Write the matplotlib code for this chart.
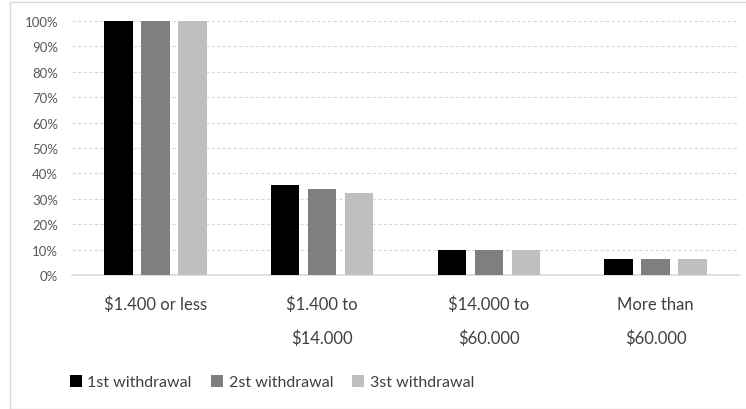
import matplotlib.pyplot as plt
import numpy as np
from matplotlib.patches import Rectangle

plt.rcParams['font.family'] = ['Lato', 'DejaVu Sans']

# Data
categories = ['$1.400 or less', '$1.400 to\n$14.000', '$14.000 to\n$60.000', 'More than\n$60.000']
first = [100, 35.4, 9.9, 6.3]
second = [100, 33.9, 9.8, 6.2]
third = [100, 32.3, 9.8, 6.2]
series = ['1st withdrawal', '2st withdrawal', '3st withdrawal']
colors = ['#000000', '#7f7f7f', '#bfbfbf']

fig = plt.figure(figsize=(7.46, 4.10), dpi=100)
ax = fig.add_axes([72 / 746, 1 - 276 / 410, 667 / 746, 254 / 410])

x = np.arange(len(categories))
w = 0.172
gap = 0.222
for i, (vals, c, name) in enumerate(zip([first, second, third], colors, series)):
    ax.bar(x + (i - 1) * gap, vals, width=w, color=c, label=name, zorder=3)

ax.set_xlim(-0.5, len(categories) - 0.5)
ax.set_ylim(0, 100)
ax.set_yticks(np.arange(0, 101, 10))
ax.set_yticklabels([f'{v}%' for v in range(0, 101, 10)], fontsize=9.5, color='#595959')
ax.set_xticks(x)
ax.set_xticklabels(categories, fontsize=12, color='#404040', linespacing=2.3)
ax.tick_params(axis='both', length=0)
ax.tick_params(axis='x', pad=15)
ax.tick_params(axis='y', pad=10)

ax.yaxis.grid(True, linestyle=(0, (3, 2)), color='#d9d9d9', linewidth=0.8, zorder=0)
for s in ['top', 'right', 'left']:
    ax.spines[s].set_visible(False)
ax.spines['bottom'].set_color('#d9d9d9')
ax.spines['bottom'].set_linewidth(1.2)

leg = fig.legend(loc='center', bbox_to_anchor=(272 / 746, 1 - 383 / 410), ncol=3, frameon=False,
                 fontsize=11.5, handlelength=0.75, handleheight=0.8, handletextpad=0.35,
                 columnspacing=1.2)
for t in leg.get_texts():
    t.set_color('#404040')

fig.patches.append(Rectangle((10 / 746, 0), 1, 1 - 3 / 410,
                             transform=fig.transFigure, fill=False, edgecolor='#d9d9d9',
                             linewidth=1.0))

fig.savefig('out.png', dpi=100)
